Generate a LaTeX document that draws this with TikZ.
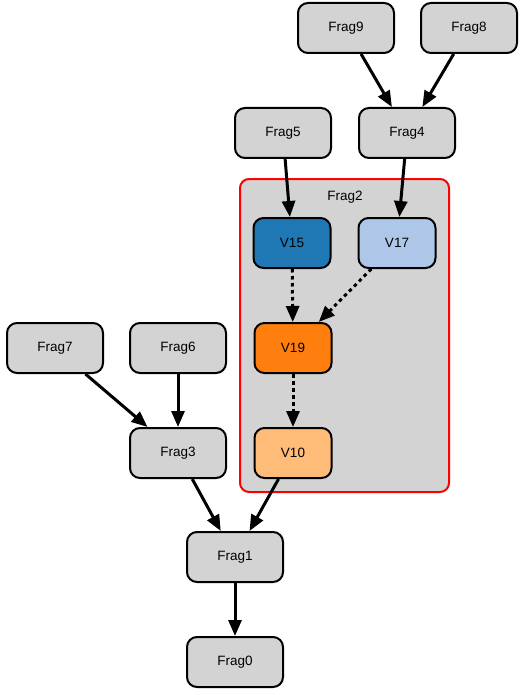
\documentclass[tikz,border=0pt]{standalone}
\usepackage{fontspec}
\setmainfont{Liberation Sans}
\usetikzlibrary{arrows.meta}
\definecolor{boxgray}{HTML}{D3D3D3}
\definecolor{vdarkblue}{HTML}{1F77B4}
\definecolor{vlightblue}{HTML}{AEC7E8}
\definecolor{vorange}{HTML}{FF7F0E}
\definecolor{vlightorange}{HTML}{FFBB78}
\begin{document}
\begin{tikzpicture}[x=1pt, y=-1pt,
		frag/.style={draw, line width=2pt, rounded corners=10pt, fill=boxgray,
			minimum width=96pt, minimum height=50pt, inner sep=0pt,
			font=\fontsize{13.5}{16}\selectfont},
		vnode/.style={frag, minimum width=77pt},
		link/.style={line width=3pt, -{Triangle[length=16pt,width=13pt]}},
		dotlink/.style={link, dash pattern=on 3.5pt off 3.5pt}]
			\useasboundingbox (0,0) rectangle (527,695);
			% cluster Frag2
			\draw [red, fill=boxgray, line width=2pt, rounded corners=9pt] (240,179) rectangle (449,492);
			\node (frag2) at (345,197) [font=\fontsize{13.5}{16}\selectfont] {Frag2};
			% fragments
			\node [frag] (frag9) at (346,28) {Frag9};
			\node [frag] (frag8) at (469,28) {Frag8};
			\node [frag] (frag5) at (283,133) {Frag5};
			\node [frag] (frag4) at (407,133) {Frag4};
			\node [frag] (frag7) at (55,348) {Frag7};
			\node [frag] (frag6) at (178,348) {Frag6};
			\node [frag] (frag3) at (178,453) {Frag3};
			\node [frag] (frag1) at (235,557) {Frag1};
			\node [frag] (frag0) at (235,662) {Frag0};
			% vertices inside Frag2
			\node [vnode, fill=vdarkblue] (v15) at (292,243) {V15};
			\node [vnode, fill=vlightblue] (v17) at (397,243) {V17};
			\node [vnode, fill=vorange] (v19) at (293,348) {V19};
			\node [vnode, fill=vlightorange] (v10) at (293,453) {V10};
			% edges
			\draw [link] (frag9) -- (frag4);
			\draw [link] (frag8) -- (frag4);
			\draw [link] (frag5) -- (v15);
			\draw [link] (frag4) -- (v17);
			\draw [dotlink] (v15) -- (v19);
			\draw [dotlink] (v17) -- (v19);
			\draw [dotlink] (v19) -- (v10);
			\draw [link] (frag7) -- (frag3);
			\draw [link] (frag6) -- (frag3);
			\draw [link] (frag3) -- (frag1);
			\draw [link] (v10) -- (frag1);
			\draw [link] (frag1) -- (frag0);
		\end{tikzpicture}
\end{document}
